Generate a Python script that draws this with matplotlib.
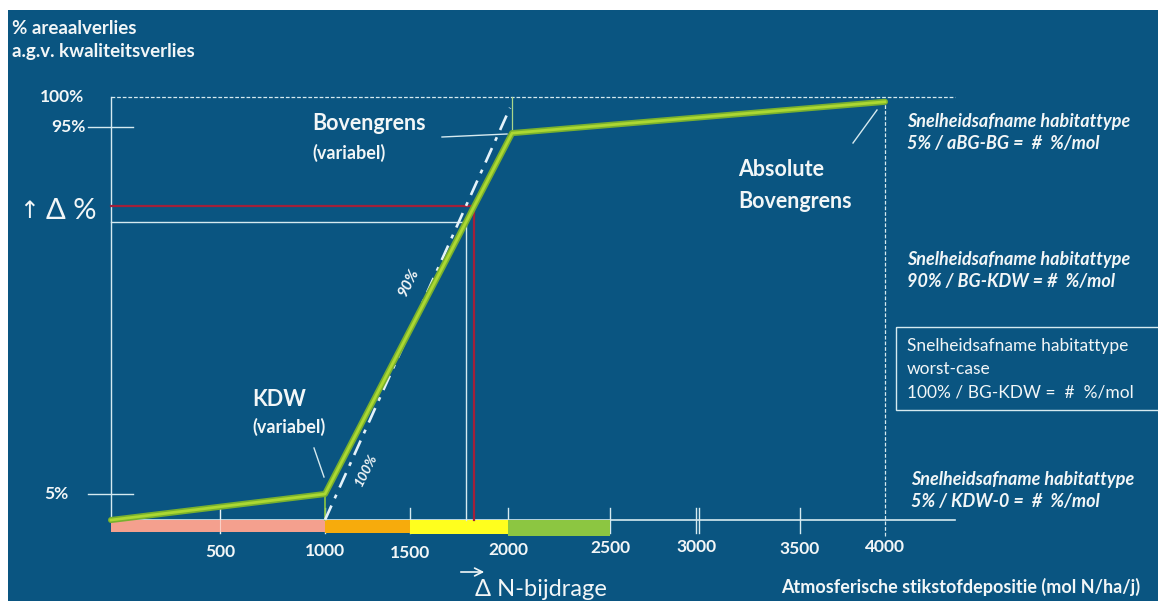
import numpy as np
import matplotlib
matplotlib.use("Agg")
import matplotlib.pyplot as plt
import matplotlib.transforms as mtransforms
from matplotlib.patches import Rectangle

plt.rcParams['font.family'] = ['Lato', 'DejaVu Sans']

W, H = 1158, 601

# schematic curve: % area loss vs N deposition (mol N/ha/j)
curve_x = [0, 1000, 2020, 4000]
curve_y = [0, 5, 93.5, 99.2]
# worst case (100%) line
worst_x = [1000, 2010]
worst_y = [0, 98.2]
# reading points on the curve (white = delta, red = higher)
white_pt = (1786, 71.7)
red_pt = (1829, 75.6)
kdw_x = 1000         # kritische depositiewaarde
bg_x = 2020          # bovengrens
abg_x = 4000         # absolute bovengrens
band_edges = [0, 1000, 1500, 2000, 2500]
band_colors = ['#f4a08e', '#f7ab0c', '#ffff1e', '#8cc641']
xtick_vals = [500, 1000, 1500, 2000, 2500, 3000, 3500, 4000]
ytick_vals = [5, 95, 100]
ytick_labels = ['5%', '95%', '100%']

# schematic (non linear) axes, knots -> pixel position
x_knots = [-2000, 0, 500, 1000, 1500, 2000, 2500, 3000, 3500, 4000, 6000]
x_knots_px = [-325, 111, 220, 325, 410, 508, 610, 697, 800, 885, 1225]
y_knots = [-30, 0, 5, 95, 100, 130]
y_knots_px = [676, 520, 494, 127, 97, -83]

def fx(v):
    return np.interp(v, x_knots, x_knots_px)
def fx_inv(p):
    return np.interp(p, x_knots_px, x_knots)
yk_up = [H - p for p in y_knots_px]
def fy(v):
    return np.interp(v, y_knots, yk_up)
def fy_inv(p):
    return np.interp(p, yk_up, y_knots)

bg = '#0a5581'
fg = '#f2f6f7'
thin = '#d6eaf0'

fig = plt.figure(figsize=(W / 100, H / 100), dpi=100, facecolor='white')
ax = fig.add_axes([0, 0, 1, 1])
ax.set_xscale('function', functions=(fx, fx_inv))
ax.set_yscale('function', functions=(fy, fy_inv))
ax.set_xlim(fx_inv(0), fx_inv(W))
ax.set_ylim(fy_inv(0), fy_inv(H))
ax.axis('off')

tpx = mtransforms.Affine2D().scale(1 / W, -1 / H).translate(0, 1) + fig.transFigure
bx = mtransforms.blended_transform_factory(ax.transData, tpx)
by = mtransforms.blended_transform_factory(tpx, ax.transData)

ax.add_patch(Rectangle((8, 10), W, H, transform=tpx, facecolor=bg, edgecolor='none', zorder=0))

# frame lines
x_end = 4410
ax.plot([0, 0], [0, 100], color=thin, lw=1, zorder=2)
ax.plot([0, x_end], [0, 0], color=thin, lw=1.2, zorder=2)
ax.plot([0, x_end], [100, 100], color=thin, lw=0.9, ls=(0, (3, 1.5)), zorder=2)
ax.plot([abg_x, abg_x], [-3, 100], color=thin, lw=0.9, ls=(0, (3, 1.5)), zorder=2)
ax.plot([bg_x, bg_x], [curve_y[2], 100], color='#a9d68a', lw=0.9, zorder=2)
ax.plot([kdw_x, kdw_x], [0, curve_y[1]], color='#8cc641', lw=1.2, zorder=4)

# y ticks
for v, lab in zip(ytick_vals, ytick_labels):
    if v != 100:
        ax.plot([88, 133], [v, v], transform=by, color=thin, lw=1, zorder=2)
ylab = dict(transform=by, color=fg, fontsize=12.5, fontweight='bold', ha='center', va='center')
ax.text(68, 95, '95%', **ylab)
ax.text(56, 5, '5%', **ylab)
ax.text(62, 100, '100%', **ylab)

# x ticks
for v in [500, 1000, 1500, 2000, 2500, 3500]:
    ax.plot([v, v], [508, 533], transform=bx, color=thin, lw=1, zorder=2)
for off in (-1.5, 1.5):
    ax.plot([fx_inv(fx(3000) + off)] * 2, [508, 533], transform=bx, color=thin, lw=1, zorder=2)
lab_y = [552, 551, 553, 550, 548, 547, 549, 547]
for v, yy in zip(xtick_vals, lab_y):
    ax.text(v, yy, str(v), transform=bx, color=fg, fontsize=12.5, fontweight='bold', ha='center', va='center')

# coloured band
for i, c in enumerate(band_colors):
    left, right = band_edges[i], band_edges[i + 1]
    depth = [-2.3, -2.5, -2.7, -3.1][i]
    ax.fill_between([left, right], depth, 0, color=c, lw=0, zorder=3)
ax.plot([500, 500], [508, 533], transform=bx, color='white', lw=0.8, alpha=0.5, zorder=3.5)

# reading lines
ax.plot([0, white_pt[0], white_pt[0]], [white_pt[1], white_pt[1], 0], color=thin, lw=1, zorder=4)
ax.plot([0, red_pt[0], red_pt[0]], [red_pt[1], red_pt[1], 0], color='#a3203a', lw=1.6, zorder=4)

# worst case and curve
ax.plot(worst_x, worst_y, color='#e4f2fa', lw=1.9, ls=(0, (6, 3, 1.5, 3)), zorder=5)
ax.plot(curve_x, curve_y, color='#78b02e', lw=4.4, zorder=6, solid_capstyle='round')
ax.plot(curve_x, curve_y, color='#acd832', lw=2.0, zorder=6)

# annotation texts
big = dict(transform=tpx, color=fg, fontsize=15.5, fontweight='bold', va='center')
small = dict(transform=tpx, color=fg, fontsize=13, fontweight='bold', va='center')
ax.text(12, 28, '% areaalverlies', transform=tpx, color=fg, fontsize=13.5, fontweight='bold', va='center')
ax.text(12, 52, 'a.g.v. kwaliteitsverlies', transform=tpx, color=fg, fontsize=13.5, fontweight='bold', va='center')
ax.text(19, 211, '\u2191', transform=tpx, color=fg, fontsize=17, va='center', family=['DejaVu Sans'])
ax.text(46, 211, '\u0394 %', transform=tpx, color=fg, fontsize=21, va='center')

ax.text(312, 124, 'Bovengrens', **big)
ax.text(312, 153, '(variabel)', **small)
ax.plot([442, 507], [137, 134], transform=tpx, color=thin, lw=1, zorder=4)

ax.text(252, 399, 'KDW', **big)
ax.text(252, 427, '(variabel)', **small)
ax.plot([314, 324], [448, 477], transform=tpx, color=thin, lw=1, zorder=4)

ax.text(738, 170, 'Absolute', **big)
ax.text(738, 202, 'Bovengrens', **big)
ax.plot([853, 877], [143, 110], transform=tpx, color=thin, lw=1, zorder=4)

ax.text(409, 282, '90%', transform=tpx, color=fg, fontsize=11, fontweight='bold', style='italic',
        rotation=63, ha='center', va='center')
ax.text(366, 470, '100%', transform=tpx, color=fg, fontsize=10, fontweight='bold', style='italic',
        rotation=63, ha='center', va='center')

ax.annotate('', xy=(487, 572), xytext=(458, 572), xycoords=tpx, textcoords=tpx,
            arrowprops=dict(arrowstyle='->', color=fg, lw=1.2, mutation_scale=14))
ax.text(475, 589, '\u0394 N-bijdrage', transform=tpx, color=fg, fontsize=17, va='center')
ax.text(781, 587, 'Atmosferische stikstofdepositie (mol N/ha/j)', transform=tpx, color=fg,
        fontsize=13, fontweight='bold', va='center')

it = dict(transform=tpx, color=fg, fontsize=13, fontweight='bold', style='italic', va='center')
ax.text(907, 122, 'Snelheidsafname habitattype', **it)
ax.text(907, 144, '5% / aBG-BG =  #  %/mol', **it)
ax.text(907, 259, 'Snelheidsafname habitattype', **it)
ax.text(907, 281, '90% / BG-KDW = #  %/mol', **it)
ax.text(911, 479, 'Snelheidsafname habitattype', **it)
ax.text(911, 502, '5% / KDW-0 =  #  %/mol', **it)

ax.add_patch(Rectangle((896, 327), 270, 83, transform=tpx, facecolor='none', edgecolor=thin, lw=1, zorder=4))
bx_txt = dict(transform=tpx, color=fg, fontsize=12.5, va='center')
ax.text(907, 346, 'Snelheidsafname habitattype', **bx_txt)
ax.text(907, 369, 'worst-case', **bx_txt)
ax.text(907, 393, '100% / BG-KDW =  #  %/mol', **bx_txt)

fig.savefig('out.png', dpi=100, facecolor='white')
